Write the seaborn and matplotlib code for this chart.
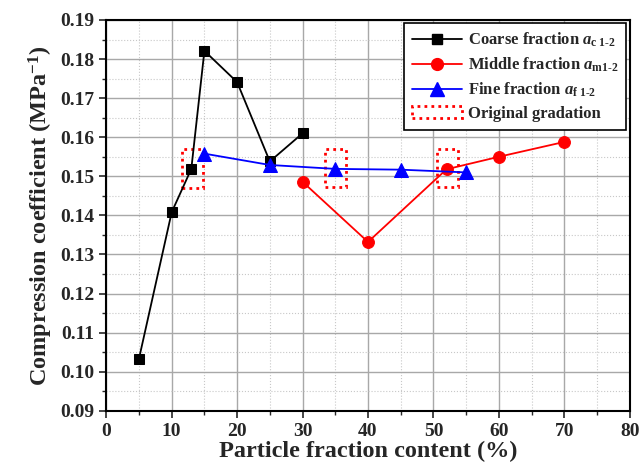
import matplotlib
matplotlib.use("Agg")
import matplotlib.pyplot as plt
import matplotlib.patches as mpatches
from matplotlib.ticker import MultipleLocator
import seaborn as sns
import pandas as pd

# datos
coarse_x = [5, 10, 13, 15, 20, 25, 30]
coarse_y = [0.1033, 0.1408, 0.1519, 0.1821, 0.1741, 0.1538, 0.1610]
middle_x = [30, 40, 52, 60, 70]
middle_y = [0.1486, 0.1332, 0.1518, 0.1550, 0.1588]
fine_x = [15, 25, 35, 45, 55]
fine_y = [0.1558, 0.1529, 0.1519, 0.1517, 0.1510]
# gradacion original (centros de los recuadros)
orig_x = [13.2, 35.0, 52.1]
orig_y = [0.1521, 0.1522, 0.1522]

labels = [r"Coarse fraction $a_{\mathrm{c\ 1\text{-}2}}$",
          r"Middle fraction $a_{\mathrm{m1\text{-}2}}$",
          r"Fine fraction $a_{\mathrm{f\ 1\text{-}2}}$",
          "Original gradation"]

sns.set_style("ticks")
plt.rcParams["font.family"] = ["Liberation Serif", "DejaVu Serif"]
plt.rcParams["font.weight"] = "bold"
plt.rcParams["mathtext.fontset"] = "custom"
plt.rcParams["mathtext.rm"] = "Liberation Serif:bold"
plt.rcParams["mathtext.it"] = "Liberation Serif:italic:bold"
plt.rcParams["mathtext.bf"] = "Liberation Serif:bold"

df_c = pd.DataFrame({"x": coarse_x, "y": coarse_y})
df_m = pd.DataFrame({"x": middle_x, "y": middle_y})
df_f = pd.DataFrame({"x": fine_x, "y": fine_y})

fig, ax = plt.subplots(figsize=(6.4, 4.76), dpi=100)
fig.subplots_adjust(left=0.166, right=0.984, top=0.958, bottom=0.137)

ax.grid(True, which="major", color="#a8a8a8", lw=1.0)
ax.grid(True, which="minor", color="#c8c8c8", lw=0.8, ls=":")
ax.set_axisbelow(True)

# recuadros de la gradacion original
for cx, cy in zip(orig_x, orig_y):
    ax.add_patch(mpatches.Rectangle((cx - 1.6, cy - 0.005), 3.2, 0.0098,
                                    fill=False, edgecolor="red", lw=2,
                                    ls=(0, (1, 1.5)), zorder=2))

sns.lineplot(data=df_c, x="x", y="y", ax=ax, sort=False, color="black",
             marker="s", markersize=7.5, lw=1.3, markeredgecolor="black",
             zorder=3)
sns.lineplot(data=df_m, x="x", y="y", ax=ax, sort=False, color="red",
             marker="o", markersize=8.5, lw=1.3, markeredgecolor="red",
             zorder=3)
sns.lineplot(data=df_f, x="x", y="y", ax=ax, sort=False, color="blue",
             marker="^", markersize=9.5, lw=1.3, markeredgecolor="blue",
             zorder=4)

ax.set_xlim(0, 80)
ax.set_ylim(0.09, 0.19)
ax.xaxis.set_major_locator(MultipleLocator(10))
ax.xaxis.set_minor_locator(MultipleLocator(5))
ax.yaxis.set_major_locator(MultipleLocator(0.01))
ax.yaxis.set_minor_locator(MultipleLocator(0.005))
ax.yaxis.set_major_formatter(plt.FormatStrFormatter("%.2f"))
ax.tick_params(which="major", length=5, width=1.2, labelsize=14)
ax.tick_params(which="minor", length=3, width=1.0)
for s in ax.spines.values():
    s.set_linewidth(1.5)
    s.set_color("black")

ax.set_xlabel("Particle fraction content (%)", fontsize=17.5,
              fontweight="bold", labelpad=1)
ax.set_ylabel(r"Compression coefficient (MPa$^{-1}$)", fontsize=17.5,
              fontweight="bold", labelpad=4)

handles = [
    plt.Line2D([], [], color="black", marker="s", markersize=7.5, lw=1.3),
    plt.Line2D([], [], color="red", marker="o", markersize=8.5, lw=1.3),
    plt.Line2D([], [], color="blue", marker="^", markersize=9.5, lw=1.3),
    mpatches.Rectangle((0, 0), 1, 1, fill=False, edgecolor="red", lw=2,
                       ls=(0, (1, 1.5))),
]
leg = ax.legend(handles, labels, loc="upper right", fontsize=12,
                frameon=True, fancybox=False, framealpha=1,
                edgecolor="black", borderpad=0.45, handlelength=3.0,
                handletextpad=0.4, labelspacing=0.4, borderaxespad=0.2)
leg.get_frame().set_linewidth(1.2)

plt.savefig("out.png", dpi=100)
